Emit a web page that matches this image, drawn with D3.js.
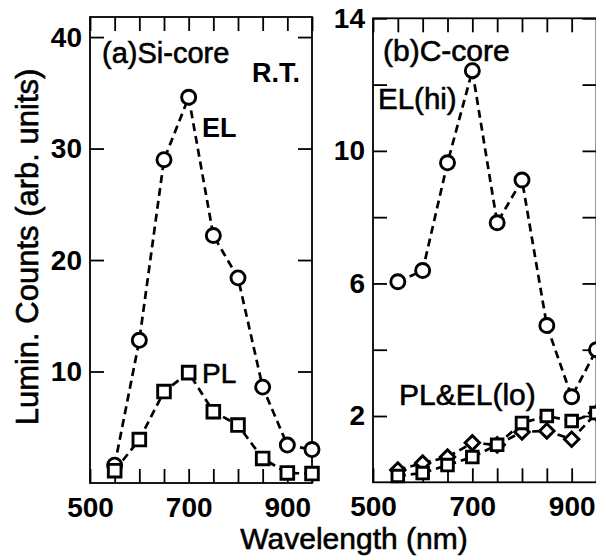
<!DOCTYPE html>
<html>
<head>
<meta charset="utf-8">
<script src="https://cdn.jsdelivr.net/npm/d3@7"></script>
<style>
  html, body { margin: 0; padding: 0; background: #fff; }
  svg { display: block; }
  text { font-family: "Liberation Sans", Arial, Helvetica, sans-serif; fill: #000; }
</style>
</head>
<body>
<svg id="chart" width="596" height="556"></svg>
<script>
// ---- data ----
const wavelengths = [550, 600, 650, 700, 750, 800, 850, 900, 950];
// panel (a) Si-core
const siEL = [1.6, 12.8, 29.0, 34.6, 22.2, 18.4, 8.6, 3.4, 3.0];
const siPL = [1.1, 3.9, 8.2, 9.9, 6.4, 5.2, 2.2, 0.9, 0.85];
// panel (b) C-core
const cELhi = [6.05, 6.39, 9.64, 12.42, 7.83, 9.12, 4.73, 2.58, 4.0];
const cPL = [0.19, 0.28, 0.52, 0.76, 1.13, 1.79, 2.0, 1.85, 2.09];
const cELlo = [0.37, 0.58, 0.76, 1.19, 1.13, 1.52, 1.55, 1.3, 2.09];

const xTicks = [500, 550, 600, 650, 700, 750, 800, 850, 900, 950];
const xTickLabels = [500, 700, 900];
const yTicksA = [10, 20, 30, 40];
const yTickLabelsA = [10, 20, 30, 40];
const yTicksB = [2, 4, 6, 8, 10, 12, 14];
const yTickLabelsB = [2, 6, 10, 14];

// ---- layout ----
const svg = d3.select("#chart");
const TICK = 14;

function panel(cfg) {
  const g = svg.append("g");
  const x = d3.scaleLinear().domain([500, 950]).range([cfg.x0, cfg.x1]);
  const y = d3.scaleLinear().domain(cfg.yDomain).range([cfg.y0, cfg.y1]);

  const fmtY = d => cfg.yLabels.includes(d) ? d : "";
  const fmtX = d => xTickLabels.includes(d) ? d : "";
  const ax = [
    g.append("g").attr("transform", `translate(0,${cfg.y0})`)
      .call(d3.axisBottom(x).tickValues(xTicks).tickSize(-TICK).tickPadding(14).tickFormat(fmtX)),
    g.append("g").attr("transform", `translate(0,${cfg.y1})`)
      .call(d3.axisTop(x).tickValues(xTicks).tickSize(-TICK).tickFormat("")),
    g.append("g").attr("transform", `translate(${cfg.x0},0)`)
      .call(d3.axisLeft(y).tickValues(cfg.yTicks).tickSize(-TICK).tickPadding(8).tickFormat(fmtY)),
    g.append("g").attr("transform", `translate(${cfg.x1},0)`)
      .call(d3.axisRight(y).tickValues(cfg.yTicks).tickSize(-TICK).tickFormat(""))
  ];
  ax.forEach(a => {
    a.select(".domain").remove();
    a.selectAll("line").attr("stroke", "#000").attr("stroke-width", 1.8);
    a.selectAll("text").style("font-size", "28px").style("font-weight", "bold")
      .style("font-family", '"Liberation Sans", Arial, sans-serif').attr("fill", "#000");
  });

  g.append("rect").attr("x", cfg.x0).attr("y", cfg.y1)
    .attr("width", cfg.x1 - cfg.x0).attr("height", cfg.y0 - cfg.y1)
    .attr("fill", "none").attr("stroke", "#000").attr("stroke-width", 1.8);

  const clipId = "clip" + cfg.id;
  svg.append("clipPath").attr("id", clipId).append("rect")
    .attr("x", cfg.x0 - 20).attr("y", cfg.y1 - 20)
    .attr("width", cfg.x1 - cfg.x0 + 40).attr("height", cfg.y0 - cfg.y1 + 40);
  const dg = g.append("g").attr("clip-path", `url(#${clipId})`);

  const line = d3.line().x((d, i) => x(wavelengths[i])).y(d => y(d));
  cfg.series.forEach(s => {
    dg.append("path").datum(s.values).attr("d", line)
      .attr("fill", "none").attr("stroke", "#000").attr("stroke-width", 2.7)
      .attr("stroke-dasharray", "8,5");
  });
  cfg.series.forEach(s => {
    const sym = d3.symbol().type(s.symbol).size(s.size);
    dg.selectAll(null).data(s.values).enter().append("path")
      .attr("d", sym)
      .attr("transform", (d, i) => `translate(${x(wavelengths[i])},${y(d)})` + (s.rotate ? " rotate(45)" : ""))
      .attr("fill", "#fff").attr("stroke", "#000").attr("stroke-width", 2.9);
  });
  return { g, x, y };
}

panel({
  id: "a", x0: 90, x1: 312, y0: 483, y1: 17, yDomain: [0, 41.8],
  yTicks: yTicksA, yLabels: yTickLabelsA,
  series: [
    { values: siEL, symbol: d3.symbolCircle, size: 155 },
    { values: siPL, symbol: d3.symbolSquare, size: 160 }
  ]
});

panel({
  id: "b", x0: 373, x1: 596.5, y0: 482.3, y1: 18.3, yDomain: [0, 14],
  yTicks: yTicksB, yLabels: yTickLabelsB,
  series: [
    { values: cELhi, symbol: d3.symbolCircle, size: 155 },
    { values: cELlo, symbol: d3.symbolSquare, size: 105, rotate: true },
    { values: cPL, symbol: d3.symbolSquare, size: 135 }
  ]
});

// ---- annotations ----
function label(txt, x, y, size, weight, anchor) {
  svg.append("text").attr("x", x).attr("y", y)
    .style("font-size", size + "px").style("font-weight", weight || "normal")
    .attr("text-anchor", anchor || "start")
    .attr("stroke", weight === "bold" ? "none" : "#000")
    .attr("stroke-width", weight === "bold" ? 0 : 0.6)
    .text(txt);
}
label("(a)Si-core", 102, 63, 29);
label("R.T.", 252, 82, 27, "bold");
label("EL", 202, 137, 27, "bold");
label("PL", 202, 383, 28);
label("(b)C-core", 383, 61, 30);
label("EL(hi)", 378, 109, 29.5);
label("PL&EL(lo)", 399, 405, 30);

label("Wavelength (nm)", 354, 549, 30, "normal", "middle");
svg.append("text")
  .attr("transform", "translate(38,247) rotate(-90)")
  .attr("text-anchor", "middle")
  .attr("stroke", "#000").attr("stroke-width", 0.6)
  .style("font-size", "31px")
  .text("Lumin. Counts (arb. units)");
</script>
</body>
</html>
